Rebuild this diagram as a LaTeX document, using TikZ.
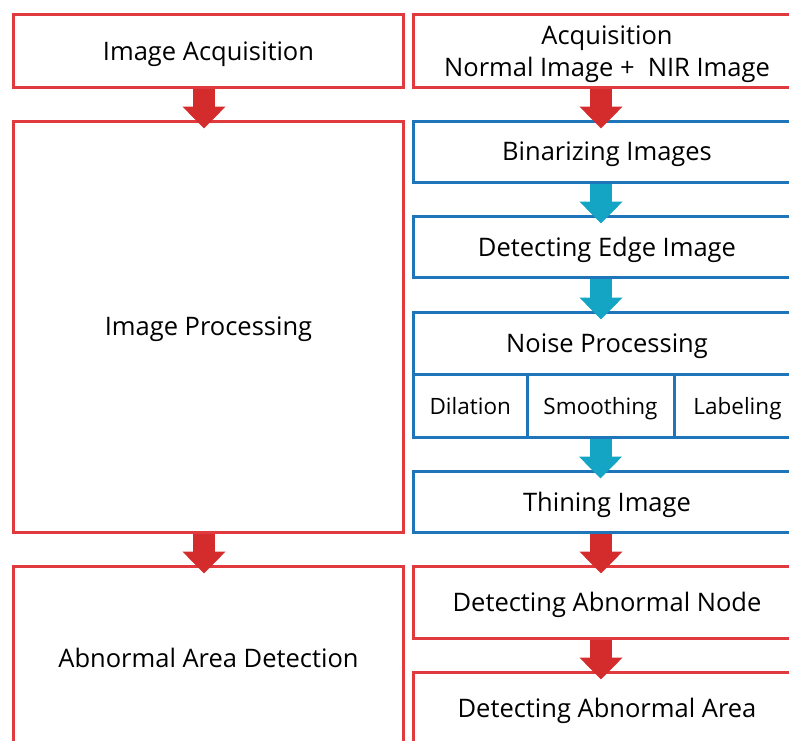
\documentclass[tikz,border=0pt]{standalone}
\usepackage{fontspec}
\setmainfont{Open Sans}
\usetikzlibrary{arrows.meta, calc}

\definecolor{boxred}{RGB}{224,58,62}
\definecolor{boxblue}{RGB}{30,117,186}
\definecolor{arrred}{RGB}{212,44,44}
\definecolor{arrblue}{RGB}{20,164,196}

\tikzset{
  redbox/.style={draw=boxred, line width=3pt, fill=white, inner sep=0pt,
    text depth=0pt, align=center, font=\fontsize{25.5}{32}\selectfont},
  bluebox/.style={redbox, draw=boxblue},
  cellbox/.style={bluebox, font=\fontsize{22.5}{26}\selectfont},
  redarrow/.style={draw=arrred, line width=22pt,
    -{Triangle[width=42pt,length=22pt]}, shorten >=-9pt},
  bluearrow/.style={redarrow, draw=arrblue},
}

\begin{document}
\begin{tikzpicture}[x=1pt, y=-1pt]

\useasboundingbox (0,0) rectangle (789,740);
\clip (0,0) rectangle (789,740);

%% left column
\node[redbox, minimum width=390pt, minimum height=73pt] (imgacq) at (208.5,51) {Image Acquisition};
\node[redbox, minimum width=390pt, minimum height=411pt] (improc) at (208.5,326.5) {Image Processing};
\node[redbox, minimum width=390pt, minimum height=183pt] (abdetect) at (208.5,657.5) {Abnormal Area Detection};

%% right column
\node[redbox, minimum width=388pt, minimum height=73pt] (niracq) at (607,51) {Acquisition\\Normal Image + \ NIR Image};
\node[bluebox, minimum width=388pt, minimum height=61pt] (binar) at (607,151.5) {Binarizing Images};
\node[bluebox, minimum width=388pt, minimum height=61pt] (edge) at (607,246.5) {Detecting Edge Image};
\node[bluebox, minimum width=388pt, minimum height=62pt] (noise) at (607,343) {Noise Processing};
% noise steps
\node[cellbox, minimum width=113.5pt, minimum height=63pt] (dilat) at (470.25,405.5) {Dilation};
\node[cellbox, minimum width=147pt, minimum height=63pt] (smooth) at (600.5,405.5) {Smoothing};
\node[cellbox, minimum width=127pt, minimum height=63pt] (label) at (737.5,405.5) {Labeling};
\node[bluebox, minimum width=388pt, minimum height=61pt] (thin) at (607,501.5) {Thining Image};
\node[redbox, minimum width=388pt, minimum height=72pt] (abnode) at (607,602) {Detecting Abnormal Node};
\node[redbox, minimum width=388pt, minimum height=72pt] (abarea) at (607,708) {Detecting Abnormal Area};

%% arrows
\draw[redarrow] ([xshift=-4.5pt]imgacq.south) -- ([xshift=-4.5pt]improc.north);
\draw[redarrow] ([xshift=-4.5pt]improc.south) -- ([xshift=-4.5pt]abdetect.north);
\draw[redarrow] ([xshift=-6pt]niracq.south) -- ([xshift=-6pt]binar.north);
\draw[bluearrow] ([xshift=-6pt]binar.south) -- ([xshift=-6pt]edge.north);
\draw[bluearrow] ([xshift=-6pt]edge.south) -- ([xshift=-6pt]noise.north);
\draw[bluearrow] (smooth.south) -- ([xshift=-6.5pt]thin.north);
\draw[redarrow] ([xshift=-6pt]thin.south) -- ([xshift=-6pt]abnode.north);
\draw[redarrow] ([xshift=-6pt]abnode.south) -- ([xshift=-6pt]abarea.north);

\end{tikzpicture}
\end{document}
